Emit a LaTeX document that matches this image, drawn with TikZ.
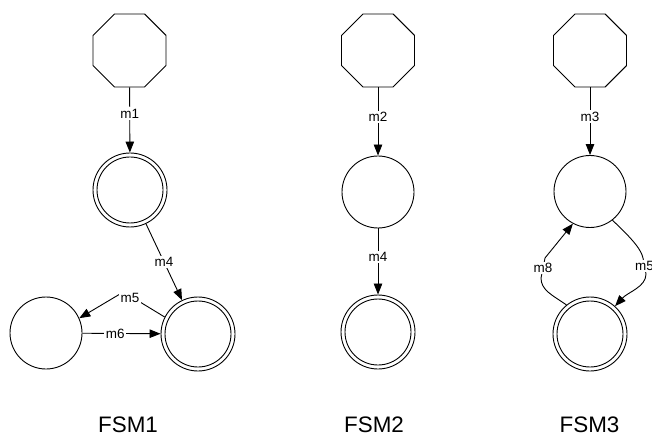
\documentclass[tikz,border=0pt]{standalone}
\usepackage{fontspec}
\setmainfont{Liberation Sans}
\usetikzlibrary{shapes.geometric,arrows.meta}
\begin{document}
\begin{tikzpicture}[x=1bp,y=-1bp,
  line width=0.9bp,
  start/.style={regular polygon, regular polygon sides=8, draw, minimum size=79bp, inner sep=0pt},
  plain/.style={circle, draw, minimum size=72bp, inner sep=0pt},
  accept/.style={circle, draw, minimum size=74bp, inner sep=0pt},
  lab/.style={fill=white, inner sep=1.5bp, font=\fontsize{13.5}{16}\selectfont},
  title/.style={font=\fontsize{22.5}{27}\selectfont, anchor=base, inner sep=0pt, outer sep=0pt},
  edge/.style={-{Triangle[length=11bp,width=8.5bp]}}
]
\useasboundingbox (0,0) rectangle (652,438);
\clip (0,0) rectangle (652,438);

% FSM1
\node[start] (o1) at (129.5,50.5) {};
\node[accept] (a1) at (130,190) {};
\draw (a1.center) circle[radius=33bp];
\node[accept] (a2) at (198,334) {};
\draw (a2.center) circle[radius=33bp];
\node[plain] (p1) at (46,333) {};
\draw[edge] (o1) -- node[lab,pos=0.4]{m1} (a1);
\draw[edge] (a1) -- node[lab]{m4} (a2);
\draw[edge] (a2.153) -- (140,302) -- node[lab]{m5} (120,294) -- (p1.24);
\draw[edge] (p1) -- node[lab,pos=0.42]{m6} (a2);
\node[title] (t1) at (128,432) {FSM1};

% FSM2
\node[start] (o2) at (378,50.5) {};
\node[plain] (p2) at (378,192) {};
\node[accept] (a3) at (378,332) {};
\draw (a3.center) circle[radius=33bp];
\draw[edge] (o2) -- node[lab,pos=0.43]{m2} (p2);
\draw[edge] (p2) -- node[lab,pos=0.43]{m4} (a3);
\node[title] (t2) at (374,432) {FSM2};

% FSM3
\node[start] (o3) at (590,50.5) {};
\node[plain] (p3) at (590,191.5) {};
\node[accept] (a4) at (590,334) {};
\draw (a4.center) circle[radius=33bp];
\draw[edge] (o3) -- node[lab,pos=0.43]{m3} (p3);
\draw[edge] (a4.129) .. controls (552,295) and (541,290) .. (541,278) -- node[lab]{m8} (545,258) -- (p3.242);
\draw[edge] (p3.-52) .. controls (628,235) and (641,248) .. (643,258) -- node[lab]{m5} (646,274) .. controls (646,287) and (628,292) .. (a4.48);
\node[title] (t3) at (589.5,432) {FSM3};
\end{tikzpicture}
\end{document}
